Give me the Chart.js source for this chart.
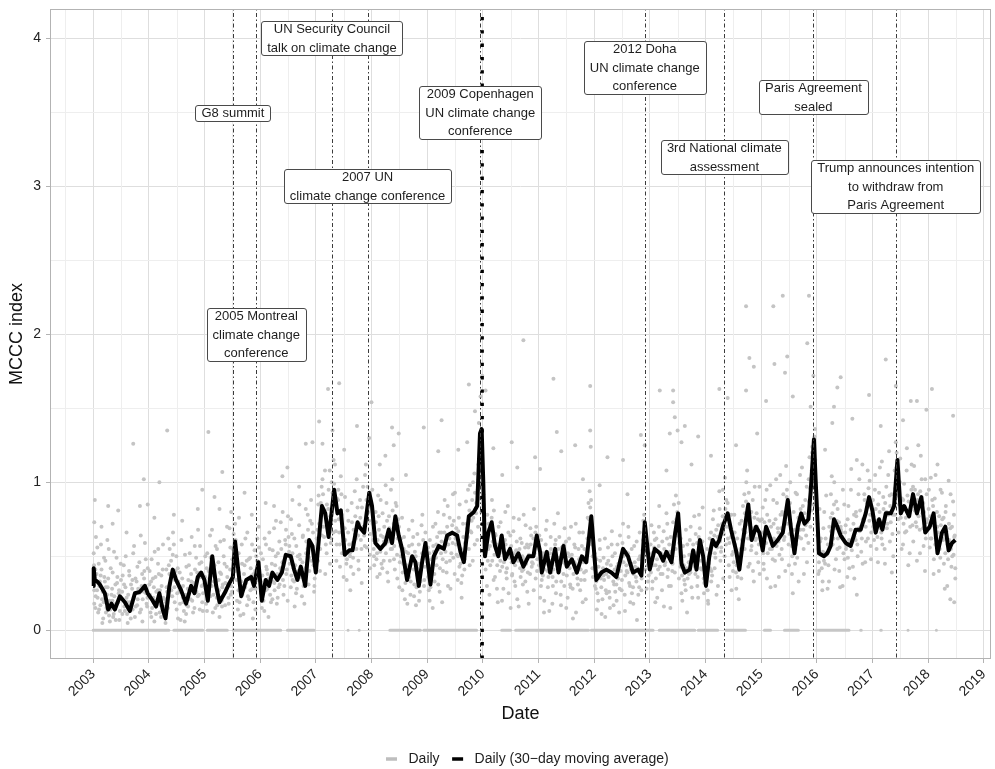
<!DOCTYPE html>
<html><head><meta charset="utf-8">
<script src="https://cdn.jsdelivr.net/npm/chart.js@4.4.1/dist/chart.umd.min.js"></script>
<style>html,body{margin:0;padding:0;background:#fff;}#wrap{width:995px;height:769px;}</style>
</head><body><div id="wrap"><canvas id="c" width="995" height="769"></canvas></div>
<script>
// ---------- DATA ----------
const xTickYears = [2003,2004,2005,2006,2007,2008,2009,2010,2011,2012,2013,2014,2015,2016,2017,2018,2019];
const yTicks = [0,1,2,3,4];

// 30-day moving average [decimal year, MCCC index]
const movingAverage = [
[2003.00,0.30],[2003.01,0.42],[2003.03,0.34],[2003.07,0.33],[2003.12,0.31],[2003.21,0.25],[2003.27,0.14],[2003.33,0.18],[2003.39,0.14],[2003.48,0.23],[2003.57,0.19],[2003.66,0.13],[2003.75,0.25],[2003.84,0.26],[2003.93,0.30],[2003.98,0.25],
[2004.07,0.20],[2004.13,0.16],[2004.19,0.25],[2004.25,0.14],[2004.30,0.08],[2004.37,0.30],[2004.43,0.41],[2004.49,0.34],[2004.58,0.27],[2004.67,0.18],[2004.76,0.30],[2004.82,0.25],[2004.88,0.36],[2004.94,0.39],
[2005.00,0.34],[2005.06,0.20],[2005.14,0.50],[2005.21,0.30],[2005.27,0.19],[2005.36,0.25],[2005.45,0.32],[2005.51,0.36],[2005.55,0.60],[2005.60,0.43],[2005.66,0.23],[2005.75,0.34],[2005.84,0.36],[2005.89,0.30],[2005.97,0.46],
[2006.03,0.20],[2006.10,0.34],[2006.16,0.30],[2006.22,0.39],[2006.31,0.34],[2006.39,0.39],[2006.46,0.51],[2006.55,0.50],[2006.61,0.41],[2006.67,0.34],[2006.73,0.43],[2006.81,0.30],[2006.88,0.61],[2006.94,0.57],
[2007.00,0.39],[2007.11,0.84],[2007.17,0.79],[2007.23,0.63],[2007.27,0.75],[2007.33,0.95],[2007.39,0.79],[2007.45,0.81],[2007.52,0.51],[2007.60,0.54],[2007.66,0.54],[2007.75,0.73],[2007.78,0.70],[2007.87,0.66],[2007.96,0.93],
[2008.01,0.84],[2008.07,0.59],[2008.16,0.55],[2008.25,0.59],[2008.31,0.68],[2008.37,0.59],[2008.43,0.77],[2008.49,0.64],[2008.55,0.55],[2008.64,0.34],[2008.73,0.50],[2008.79,0.46],[2008.85,0.30],[2008.91,0.46],[2008.97,0.59],
[2009.06,0.31],[2009.12,0.50],[2009.21,0.57],[2009.30,0.55],[2009.36,0.64],[2009.45,0.66],[2009.54,0.64],[2009.60,0.53],[2009.66,0.46],[2009.75,0.77],[2009.84,0.80],[2009.90,0.84],[2009.95,1.33],[2009.98,1.36],
[2010.01,0.99],[2010.04,0.50],[2010.10,0.66],[2010.16,0.73],[2010.22,0.57],[2010.28,0.50],[2010.34,0.64],[2010.40,0.48],[2010.49,0.55],[2010.55,0.46],[2010.64,0.52],[2010.73,0.43],[2010.82,0.50],[2010.91,0.50],[2010.97,0.64],
[2011.03,0.53],[2011.06,0.39],[2011.15,0.53],[2011.21,0.39],[2011.30,0.55],[2011.36,0.39],[2011.45,0.57],[2011.51,0.43],[2011.60,0.48],[2011.69,0.39],[2011.78,0.50],[2011.86,0.46],[2011.95,0.77],
[2012.04,0.34],[2012.13,0.39],[2012.22,0.41],[2012.31,0.39],[2012.40,0.36],[2012.52,0.55],[2012.61,0.50],[2012.70,0.39],[2012.79,0.41],[2012.85,0.37],[2012.91,0.73],
[2013.00,0.41],[2013.09,0.55],[2013.18,0.52],[2013.24,0.47],[2013.30,0.53],[2013.39,0.46],[2013.45,0.64],[2013.51,0.79],[2013.57,0.45],[2013.63,0.39],[2013.72,0.41],[2013.78,0.54],[2013.84,0.41],[2013.90,0.61],[2013.96,0.50],
[2014.01,0.30],[2014.07,0.50],[2014.13,0.61],[2014.19,0.57],[2014.25,0.61],[2014.31,0.70],[2014.40,0.79],[2014.46,0.68],[2014.55,0.54],[2014.61,0.41],[2014.67,0.59],[2014.73,0.75],[2014.77,0.85],[2014.83,0.61],[2014.91,0.70],[2014.97,0.66],
[2015.03,0.54],[2015.09,0.70],[2015.15,0.64],[2015.21,0.57],[2015.30,0.61],[2015.39,0.66],[2015.48,0.88],[2015.54,0.68],[2015.60,0.52],[2015.66,0.70],[2015.72,0.79],[2015.78,0.72],[2015.85,0.75],[2015.89,0.93],[2015.92,1.11],[2015.95,1.29],[2015.98,1.02],
[2016.04,0.52],[2016.13,0.50],[2016.19,0.52],[2016.25,0.57],[2016.31,0.75],[2016.37,0.70],[2016.43,0.64],[2016.52,0.59],[2016.61,0.57],[2016.70,0.68],[2016.79,0.68],[2016.88,0.79],[2016.94,0.90],
[2017.00,0.81],[2017.06,0.66],[2017.12,0.75],[2017.18,0.68],[2017.24,0.79],[2017.33,0.79],[2017.39,0.84],[2017.45,1.15],[2017.51,0.79],[2017.57,0.84],[2017.66,0.77],[2017.73,0.92],[2017.80,0.79],[2017.88,0.90],[2017.95,0.66],
[2018.03,0.70],[2018.10,0.79],[2018.17,0.52],[2018.25,0.66],[2018.31,0.70],[2018.37,0.54],[2018.43,0.59],[2018.49,0.61]
];

// daily values, spread and outliers [decimal year, MCCC index]
const dailyPoints = [
[2003.01,0.52],[2003.02,0.18],[2003.04,0.41],[2003.05,0.63],[2003.07,0.27],[2003.09,0.12],[2003.10,0.45],[2003.12,0.33],[2003.14,0.58],[2003.16,0.21],[2003.18,0.08],[2003.20,0.36],[2003.22,0.47],[2003.24,0.15],[2003.26,0.29],[2003.28,0.55],[2003.30,0.06],[2003.33,0.24],[2003.35,0.39],[2003.37,0.11],[2003.40,0.31],[2003.42,0.49],[2003.45,0.19],[2003.47,0.07],[2003.50,0.34],[2003.52,0.26],[2003.55,0.44],[2003.57,0.13],[2003.60,0.22],[2003.62,0.05],[2003.65,0.37],[2003.67,0.17],[2003.70,0.28],[2003.72,0.52],[2003.75,0.09],[2003.78,0.33],[2003.80,0.21],[2003.83,0.46],[2003.86,0.14],[2003.88,0.38],[2003.91,0.26],[2003.93,0.59],[2003.96,0.18],[2003.98,0.42],
[2003.03,0.88],[2003.02,0.73],[2003.27,0.84],[2003.45,0.81],[2003.72,1.26],[2003.84,0.84],[2003.91,1.02],[2003.98,0.85],[2003.15,0.70],[2003.60,0.66],[2003.35,0.72],
[2004.01,0.31],[2004.03,0.12],[2004.05,0.48],[2004.08,0.22],[2004.10,0.06],[2004.12,0.36],[2004.15,0.18],[2004.17,0.55],[2004.20,0.27],[2004.22,0.09],[2004.25,0.41],[2004.27,0.16],[2004.30,0.05],[2004.32,0.29],[2004.35,0.62],[2004.37,0.38],[2004.40,0.47],[2004.42,0.23],[2004.45,0.58],[2004.47,0.34],[2004.50,0.14],[2004.52,0.42],[2004.55,0.26],[2004.57,0.07],[2004.60,0.35],[2004.62,0.19],[2004.65,0.51],[2004.67,0.11],[2004.70,0.28],[2004.72,0.44],[2004.75,0.21],[2004.77,0.63],[2004.80,0.32],[2004.82,0.15],[2004.85,0.49],[2004.87,0.39],[2004.90,0.24],[2004.92,0.57],[2004.95,0.30],[2004.97,0.13],
[2004.19,1.00],[2004.33,1.35],[2004.45,0.78],[2004.60,0.74],[2004.96,0.95],[2004.88,0.82],[2004.10,0.76],
[2005.01,0.36],[2005.03,0.18],[2005.05,0.52],[2005.08,0.27],[2005.10,0.64],[2005.12,0.41],[2005.15,0.12],[2005.17,0.33],[2005.20,0.57],[2005.22,0.22],[2005.25,0.46],[2005.27,0.09],[2005.30,0.38],[2005.32,0.29],[2005.35,0.61],[2005.37,0.17],[2005.40,0.43],[2005.42,0.31],[2005.45,0.69],[2005.47,0.24],[2005.50,0.48],[2005.52,0.35],[2005.55,0.72],[2005.57,0.53],[2005.60,0.14],[2005.62,0.39],[2005.65,0.26],[2005.67,0.58],[2005.70,0.11],[2005.72,0.44],[2005.75,0.32],[2005.77,0.66],[2005.80,0.21],[2005.82,0.49],[2005.85,0.37],[2005.87,0.08],[2005.90,0.54],[2005.92,0.28],[2005.95,0.62],[2005.97,0.41],
[2005.07,1.34],[2005.18,0.90],[2005.32,1.07],[2005.48,0.80],[2005.72,0.93],[2005.62,0.76],[2005.85,0.78],[2005.27,0.82],
[2006.01,0.33],[2006.03,0.15],[2006.05,0.48],[2006.08,0.62],[2006.10,0.27],[2006.12,0.41],[2006.15,0.09],[2006.17,0.55],[2006.20,0.36],[2006.22,0.21],[2006.25,0.69],[2006.27,0.44],[2006.30,0.18],[2006.32,0.52],[2006.35,0.31],[2006.37,0.73],[2006.40,0.46],[2006.42,0.24],[2006.45,0.61],[2006.47,0.38],[2006.50,0.77],[2006.52,0.53],[2006.55,0.29],[2006.57,0.65],[2006.60,0.42],[2006.62,0.16],[2006.65,0.57],[2006.67,0.35],[2006.70,0.71],[2006.72,0.48],[2006.75,0.23],[2006.77,0.64],[2006.80,0.39],[2006.82,0.82],[2006.85,0.55],[2006.87,0.31],[2006.90,0.74],[2006.92,0.47],[2006.95,0.66],[2006.97,0.26],
[2006.10,0.86],[2006.25,0.84],[2006.40,1.04],[2006.49,1.10],[2006.70,0.97],[2006.82,1.26],[2006.94,1.27],[2006.58,0.88],
[2007.01,0.42],[2007.03,0.68],[2007.05,0.91],[2007.08,0.55],[2007.10,0.78],[2007.12,1.02],[2007.15,0.63],[2007.17,0.38],[2007.20,0.85],[2007.22,0.71],[2007.25,1.08],[2007.27,0.59],[2007.30,0.93],[2007.32,1.15],[2007.35,0.74],[2007.37,0.47],[2007.40,0.88],[2007.42,0.66],[2007.45,1.04],[2007.47,0.52],[2007.50,0.36],[2007.52,0.69],[2007.55,0.45],[2007.57,0.81],[2007.60,0.58],[2007.62,0.27],[2007.65,0.73],[2007.67,0.49],[2007.70,0.94],[2007.72,0.62],[2007.75,0.83],[2007.77,0.41],[2007.80,0.76],[2007.82,0.55],[2007.85,0.97],[2007.87,0.64],[2007.90,1.12],[2007.92,0.79],[2007.95,0.86],[2007.97,0.51],
[2007.06,1.41],[2007.12,1.26],[2007.22,1.63],[2007.42,1.67],[2007.74,1.38],[2007.51,1.22],[2007.96,1.30],[2007.30,1.35],
[2008.01,0.82],[2008.03,0.61],[2008.05,0.44],[2008.08,0.73],[2008.10,0.52],[2008.12,0.91],[2008.15,0.38],[2008.17,0.64],[2008.20,0.79],[2008.22,0.47],[2008.25,0.58],[2008.27,0.86],[2008.30,0.33],[2008.32,0.69],[2008.35,0.95],[2008.37,0.55],[2008.40,0.72],[2008.42,0.41],[2008.45,0.84],[2008.47,0.62],[2008.50,0.29],[2008.52,0.57],[2008.55,0.76],[2008.57,0.45],[2008.60,0.21],[2008.62,0.53],[2008.65,0.37],[2008.67,0.68],[2008.70,0.24],[2008.72,0.49],[2008.75,0.63],[2008.77,0.31],[2008.80,0.17],[2008.82,0.42],[2008.85,0.58],[2008.87,0.26],[2008.90,0.71],[2008.92,0.48],[2008.95,0.34],[2008.97,0.66],
[2008.00,1.54],[2008.37,1.37],[2008.40,1.25],[2008.49,1.33],[2008.94,1.37],[2008.15,1.12],[2008.62,1.05],[2008.25,1.18],
[2009.01,0.46],[2009.03,0.27],[2009.05,0.61],[2009.08,0.38],[2009.10,0.15],[2009.12,0.53],[2009.15,0.72],[2009.17,0.44],[2009.20,0.31],[2009.22,0.66],[2009.25,0.52],[2009.27,0.19],[2009.30,0.78],[2009.32,0.57],[2009.35,0.39],[2009.37,0.84],[2009.40,0.62],[2009.42,0.28],[2009.45,0.71],[2009.47,0.49],[2009.50,0.93],[2009.52,0.58],[2009.55,0.34],[2009.57,0.76],[2009.60,0.45],[2009.62,0.22],[2009.65,0.63],[2009.67,0.41],[2009.70,0.87],[2009.72,0.69],[2009.75,0.55],[2009.77,0.98],[2009.80,0.74],[2009.82,0.47],[2009.85,1.06],[2009.87,0.82],[2009.90,0.61],[2009.92,1.12],[2009.95,0.89],[2009.97,1.28],
[2009.20,1.21],[2009.26,1.42],[2009.56,1.22],[2009.72,1.27],[2009.75,1.66],[2009.86,1.48],[2009.93,1.40],[2009.96,1.58],[2009.99,1.72],
[2010.01,0.92],[2010.03,0.63],[2010.05,0.41],[2010.08,0.78],[2010.10,0.55],[2010.12,0.24],[2010.15,0.69],[2010.17,0.47],[2010.20,0.81],[2010.22,0.36],[2010.25,0.58],[2010.27,0.19],[2010.30,0.52],[2010.32,0.73],[2010.35,0.43],[2010.37,0.28],[2010.40,0.61],[2010.42,0.39],[2010.45,0.84],[2010.47,0.51],[2010.50,0.15],[2010.52,0.46],[2010.55,0.67],[2010.57,0.33],[2010.60,0.54],[2010.62,0.21],[2010.65,0.75],[2010.67,0.42],[2010.70,0.59],[2010.72,0.31],[2010.75,0.48],[2010.77,0.71],[2010.80,0.26],[2010.82,0.56],[2010.85,0.38],[2010.87,0.64],[2010.90,0.45],[2010.92,0.82],[2010.95,0.35],[2010.97,0.57],
[2010.05,1.62],[2010.19,1.23],[2010.52,1.27],[2010.73,1.96],[2010.94,1.17],[2010.35,1.05],[2010.62,1.10],
[2011.01,0.44],[2011.03,0.22],[2011.05,0.61],[2011.08,0.37],[2011.10,0.12],[2011.12,0.52],[2011.15,0.74],[2011.17,0.29],[2011.20,0.47],[2011.22,0.63],[2011.25,0.18],[2011.27,0.41],[2011.30,0.58],[2011.32,0.33],[2011.35,0.79],[2011.37,0.49],[2011.40,0.24],[2011.42,0.56],[2011.45,0.38],[2011.47,0.69],[2011.50,0.15],[2011.52,0.43],[2011.55,0.62],[2011.57,0.31],[2011.60,0.51],[2011.62,0.08],[2011.65,0.46],[2011.67,0.72],[2011.70,0.35],[2011.72,0.55],[2011.75,0.27],[2011.77,0.48],[2011.80,0.66],[2011.82,0.39],[2011.85,0.21],[2011.87,0.53],[2011.90,0.86],[2011.92,0.94],[2011.95,0.71],[2011.97,0.42],
[2011.03,1.09],[2011.27,1.70],[2011.33,1.34],[2011.41,1.21],[2011.66,1.25],[2011.93,1.65],[2011.93,1.35],[2011.94,1.24],[2011.80,1.02],
[2012.01,0.52],[2012.03,0.28],[2012.05,0.14],[2012.08,0.43],[2012.10,0.61],[2012.12,0.35],[2012.15,0.21],[2012.17,0.49],[2012.20,0.09],[2012.22,0.38],[2012.25,0.56],[2012.27,0.26],[2012.30,0.44],[2012.32,0.67],[2012.35,0.17],[2012.37,0.41],[2012.40,0.31],[2012.42,0.58],[2012.45,0.12],[2012.47,0.47],[2012.50,0.34],[2012.52,0.72],[2012.55,0.24],[2012.57,0.53],[2012.60,0.39],[2012.62,0.63],[2012.65,0.19],[2012.67,0.45],[2012.70,0.29],[2012.72,0.57],[2012.75,0.36],[2012.77,0.07],[2012.80,0.48],[2012.82,0.66],[2012.85,0.27],[2012.87,0.54],[2012.90,0.78],[2012.92,0.41],[2012.95,0.59],[2012.97,0.33],
[2012.24,1.17],[2012.52,1.15],[2012.84,1.32],[2012.91,1.25],[2012.10,0.98],[2012.60,0.92],
[2013.01,0.48],[2013.03,0.71],[2013.05,0.33],[2013.08,0.56],[2013.10,0.19],[2013.12,0.62],[2013.15,0.41],[2013.17,0.84],[2013.20,0.52],[2013.22,0.27],[2013.25,0.67],[2013.27,0.44],[2013.30,0.79],[2013.32,0.36],[2013.35,0.58],[2013.37,0.15],[2013.40,0.49],[2013.42,0.73],[2013.45,0.39],[2013.47,0.91],[2013.50,0.64],[2013.52,0.86],[2013.55,0.43],[2013.57,0.25],[2013.60,0.57],[2013.62,0.34],[2013.65,0.68],[2013.67,0.12],[2013.70,0.46],[2013.72,0.61],[2013.75,0.29],[2013.77,0.53],[2013.80,0.77],[2013.82,0.38],[2013.85,0.59],[2013.87,0.22],[2013.90,0.69],[2013.92,0.47],[2013.95,0.83],[2013.97,0.35],
[2013.18,1.62],[2013.36,1.33],[2013.42,1.62],[2013.42,1.54],[2013.45,1.44],[2013.50,1.35],[2013.57,1.27],[2013.63,1.38],[2013.87,1.31],[2013.30,1.08],[2013.75,1.12],
[2014.01,0.31],[2014.03,0.55],[2014.05,0.18],[2014.08,0.42],[2014.10,0.66],[2014.12,0.37],[2014.15,0.81],[2014.17,0.52],[2014.20,0.24],[2014.22,0.63],[2014.25,0.94],[2014.27,0.47],[2014.30,0.72],[2014.32,0.35],[2014.35,1.03],[2014.37,0.58],[2014.40,0.86],[2014.42,0.44],[2014.45,0.69],[2014.47,0.27],[2014.50,0.53],[2014.52,0.78],[2014.55,0.39],[2014.57,0.62],[2014.60,0.21],[2014.62,0.48],[2014.65,0.74],[2014.67,0.57],[2014.70,0.92],[2014.72,0.66],[2014.75,1.08],[2014.77,0.43],[2014.80,0.71],[2014.82,0.54],[2014.85,0.88],[2014.87,0.33],[2014.90,0.61],[2014.92,0.79],[2014.95,0.46],[2014.97,0.97],
[2014.25,1.63],[2014.40,1.57],[2014.73,2.19],[2014.73,1.62],[2014.79,1.84],[2014.87,1.78],[2014.93,1.33],[2014.10,1.18],[2014.55,1.25],
[2015.01,0.58],[2015.03,0.83],[2015.05,0.41],[2015.08,0.67],[2015.10,0.95],[2015.12,0.52],[2015.15,0.74],[2015.17,0.29],[2015.20,0.61],[2015.22,0.88],[2015.25,0.47],[2015.27,1.02],[2015.30,0.69],[2015.32,0.36],[2015.35,0.78],[2015.37,0.55],[2015.40,0.92],[2015.42,0.63],[2015.45,1.11],[2015.47,0.72],[2015.50,0.44],[2015.52,0.86],[2015.55,0.57],[2015.57,0.25],[2015.60,0.68],[2015.62,0.93],[2015.65,0.49],[2015.67,0.76],[2015.70,1.05],[2015.72,0.62],[2015.75,0.84],[2015.77,0.38],[2015.80,0.71],[2015.82,0.97],[2015.85,0.59],[2015.87,1.17],[2015.90,0.81],[2015.92,1.24],[2015.95,0.99],[2015.97,1.36],
[2015.09,1.55],[2015.24,1.80],[2015.22,2.19],[2015.39,2.26],[2015.43,1.74],[2015.47,1.85],[2015.57,1.58],[2015.83,1.94],[2015.86,2.26],[2015.89,1.51],[2015.94,1.72],
[2016.01,0.64],[2016.03,0.38],[2016.05,0.82],[2016.08,0.51],[2016.10,0.27],[2016.12,0.69],[2016.15,0.45],[2016.17,0.91],[2016.20,0.58],[2016.22,0.33],[2016.25,0.76],[2016.27,1.04],[2016.30,0.62],[2016.32,0.41],[2016.35,0.87],[2016.37,0.55],[2016.40,0.73],[2016.42,0.29],[2016.45,0.66],[2016.47,0.95],[2016.50,0.48],[2016.52,0.71],[2016.55,0.36],[2016.57,0.84],[2016.60,0.59],[2016.62,1.09],[2016.65,0.43],[2016.67,0.78],[2016.70,0.61],[2016.72,0.24],[2016.75,0.92],[2016.77,0.67],[2016.80,0.53],[2016.82,1.12],[2016.85,0.74],[2016.87,0.46],[2016.90,0.86],[2016.92,0.62],[2016.95,1.01],[2016.97,0.57],
[2016.28,1.40],[2016.31,1.51],[2016.37,1.64],[2016.43,1.71],[2016.64,1.43],[2016.94,1.59],[2016.15,1.22],[2016.72,1.15],
[2017.01,0.88],[2017.03,0.61],[2017.05,1.05],[2017.08,0.74],[2017.10,0.46],[2017.12,0.93],[2017.15,0.69],[2017.17,1.14],[2017.20,0.82],[2017.22,0.55],[2017.25,0.97],[2017.27,0.72],[2017.30,1.21],[2017.32,0.84],[2017.35,0.39],[2017.37,0.78],[2017.40,1.08],[2017.42,1.27],[2017.45,0.91],[2017.47,0.66],[2017.50,1.16],[2017.52,0.81],[2017.55,0.58],[2017.57,0.99],[2017.60,0.76],[2017.62,1.23],[2017.65,0.87],[2017.67,0.52],[2017.70,0.95],[2017.72,0.71],[2017.75,1.11],[2017.77,0.83],[2017.80,0.47],[2017.82,0.92],[2017.85,0.68],[2017.87,1.18],[2017.90,0.79],[2017.92,0.57],[2017.95,1.02],[2017.97,0.73],
[2017.24,1.83],[2017.42,1.65],[2017.69,1.55],[2017.80,1.55],[2017.97,1.49],[2017.15,1.38],[2017.55,1.42],
[2018.01,0.82],[2018.03,0.56],[2018.05,1.03],[2018.08,0.71],[2018.10,0.38],[2018.12,0.89],[2018.15,0.64],[2018.17,1.12],[2018.20,0.77],[2018.22,0.49],[2018.25,0.93],[2018.27,0.61],[2018.30,0.28],[2018.32,0.84],[2018.35,0.58],[2018.37,1.01],[2018.40,0.69],[2018.42,0.43],[2018.45,0.87],[2018.47,0.63],[2018.49,0.35],
[2018.07,1.63],[2018.45,1.45],[2018.40,0.21],[2018.47,0.19]
];

// daily values, dense core of the cloud
const dailyPointsCore = [
[2003.02,0.27],[2003.04,0.15],[2003.06,0.38],[2003.08,0.22],[2003.11,0.30],[2003.13,0.17],[2003.15,0.41],[2003.17,0.26],[2003.19,0.19],[2003.21,0.33],[2003.23,0.12],[2003.25,0.24],[2003.27,0.35],[2003.29,0.20],[2003.31,0.14],[2003.34,0.28],[2003.36,0.09],[2003.38,0.23],[2003.41,0.18],[2003.43,0.32],[2003.46,0.25],[2003.48,0.13],[2003.51,0.21],[2003.53,0.37],[2003.56,0.16],[2003.58,0.29],[2003.61,0.11],[2003.63,0.24],[2003.66,0.19],[2003.68,0.31],[2003.71,0.14],[2003.73,0.22],[2003.76,0.35],[2003.79,0.17],[2003.81,0.28],[2003.84,0.12],[2003.87,0.30],[2003.89,0.21],[2003.92,0.40],[2003.95,0.25],[2003.97,0.16],
[2004.02,0.24],[2004.04,0.33],[2004.06,0.15],[2004.09,0.29],[2004.11,0.20],[2004.13,0.11],[2004.16,0.27],[2004.18,0.38],[2004.21,0.17],[2004.23,0.30],[2004.26,0.22],[2004.28,0.10],[2004.31,0.19],[2004.33,0.26],[2004.36,0.44],[2004.38,0.31],[2004.41,0.36],[2004.43,0.51],[2004.46,0.29],[2004.48,0.40],[2004.51,0.25],[2004.53,0.33],[2004.56,0.18],[2004.58,0.28],[2004.61,0.22],[2004.63,0.13],[2004.66,0.24],[2004.68,0.17],[2004.71,0.34],[2004.73,0.27],[2004.76,0.38],[2004.78,0.20],[2004.81,0.29],[2004.83,0.41],[2004.86,0.33],[2004.88,0.23],[2004.91,0.45],[2004.93,0.36],[2004.96,0.19],[2004.98,0.31],
[2005.02,0.28],[2005.04,0.42],[2005.06,0.21],[2005.09,0.35],[2005.11,0.49],[2005.13,0.30],[2005.16,0.24],[2005.18,0.44],[2005.21,0.33],[2005.23,0.17],[2005.26,0.27],[2005.28,0.39],[2005.31,0.20],[2005.33,0.31],[2005.36,0.45],[2005.38,0.26],[2005.41,0.36],[2005.43,0.22],[2005.46,0.41],[2005.48,0.30],[2005.51,0.55],[2005.53,0.43],[2005.56,0.61],[2005.58,0.34],[2005.61,0.27],[2005.63,0.19],[2005.66,0.33],[2005.68,0.24],[2005.71,0.38],[2005.73,0.29],[2005.76,0.47],[2005.78,0.23],[2005.81,0.35],[2005.83,0.42],[2005.86,0.28],[2005.88,0.19],[2005.91,0.40],[2005.93,0.50],[2005.96,0.34],[2005.98,0.56],
[2006.02,0.25],[2006.04,0.37],[2006.06,0.20],[2006.09,0.31],[2006.11,0.43],[2006.13,0.28],[2006.16,0.35],[2006.18,0.24],[2006.21,0.45],[2006.23,0.33],[2006.26,0.27],[2006.28,0.50],[2006.31,0.38],[2006.33,0.29],[2006.36,0.42],[2006.38,0.55],[2006.41,0.34],[2006.43,0.47],[2006.46,0.58],[2006.48,0.41],[2006.51,0.63],[2006.53,0.45],[2006.56,0.37],[2006.58,0.52],[2006.61,0.33],[2006.63,0.44],[2006.66,0.28],[2006.68,0.40],[2006.71,0.51],[2006.73,0.36],[2006.76,0.46],[2006.78,0.30],[2006.81,0.42],[2006.83,0.60],[2006.86,0.68],[2006.88,0.49],[2006.91,0.58],[2006.93,0.72],[2006.96,0.44],[2006.98,0.35],
[2007.02,0.53],[2007.04,0.47],[2007.06,0.72],[2007.09,0.86],[2007.11,0.64],[2007.13,0.92],[2007.16,0.81],[2007.18,0.58],[2007.21,0.69],[2007.23,0.95],[2007.26,0.77],[2007.28,0.62],[2007.31,0.84],[2007.33,0.99],[2007.36,0.67],[2007.38,0.89],[2007.41,0.75],[2007.43,0.58],[2007.46,0.92],[2007.48,0.70],[2007.51,0.55],[2007.53,0.61],[2007.56,0.48],[2007.58,0.66],[2007.61,0.52],[2007.63,0.43],[2007.66,0.59],[2007.68,0.68],[2007.71,0.77],[2007.73,0.55],[2007.76,0.64],[2007.78,0.72],[2007.81,0.61],[2007.83,0.83],[2007.86,0.70],[2007.88,0.57],[2007.91,0.88],[2007.93,0.97],[2007.96,0.74],[2007.98,0.65],
[2008.02,0.72],[2008.04,0.55],[2008.06,0.66],[2008.09,0.48],[2008.11,0.61],[2008.13,0.77],[2008.16,0.53],[2008.18,0.45],[2008.21,0.63],[2008.23,0.70],[2008.26,0.52],[2008.28,0.74],[2008.31,0.60],[2008.33,0.47],[2008.36,0.66],[2008.38,0.81],[2008.41,0.57],[2008.43,0.68],[2008.46,0.51],[2008.48,0.75],[2008.51,0.46],[2008.53,0.62],[2008.56,0.39],[2008.58,0.55],[2008.61,0.32],[2008.63,0.44],[2008.66,0.52],[2008.68,0.36],[2008.71,0.47],[2008.73,0.58],[2008.76,0.41],[2008.78,0.53],[2008.81,0.29],[2008.83,0.37],[2008.86,0.45],[2008.88,0.33],[2008.91,0.52],[2008.93,0.61],[2008.96,0.43],[2008.98,0.55],
[2009.02,0.36],[2009.04,0.52],[2009.06,0.29],[2009.09,0.44],[2009.11,0.57],[2009.13,0.38],[2009.16,0.49],[2009.18,0.63],[2009.21,0.55],[2009.23,0.42],[2009.26,0.60],[2009.28,0.48],[2009.31,0.66],[2009.33,0.53],[2009.36,0.70],[2009.38,0.58],[2009.41,0.47],[2009.43,0.65],[2009.46,0.59],[2009.48,0.74],[2009.51,0.62],[2009.53,0.51],[2009.56,0.67],[2009.58,0.43],[2009.61,0.55],[2009.63,0.37],[2009.66,0.50],[2009.68,0.59],[2009.71,0.72],[2009.73,0.63],[2009.76,0.81],[2009.78,0.67],[2009.81,0.88],[2009.83,0.76],[2009.86,0.93],[2009.88,0.79],[2009.91,0.95],[2009.93,1.02],[2009.96,1.18],[2009.98,1.09],
[2010.02,0.74],[2010.04,0.55],[2010.06,0.62],[2010.09,0.47],[2010.11,0.68],[2010.13,0.57],[2010.16,0.76],[2010.18,0.60],[2010.21,0.51],[2010.23,0.64],[2010.26,0.44],[2010.28,0.56],[2010.31,0.40],[2010.33,0.62],[2010.36,0.53],[2010.38,0.46],[2010.41,0.58],[2010.43,0.35],[2010.46,0.66],[2010.48,0.49],[2010.51,0.57],[2010.53,0.38],[2010.56,0.52],[2010.58,0.44],[2010.61,0.60],[2010.63,0.47],[2010.66,0.55],[2010.68,0.36],[2010.71,0.50],[2010.73,0.41],[2010.76,0.56],[2010.78,0.45],[2010.81,0.39],[2010.83,0.51],[2010.86,0.58],[2010.88,0.43],[2010.91,0.62],[2010.93,0.52],[2010.96,0.70],[2010.98,0.48],
[2011.02,0.55],[2011.04,0.46],[2011.06,0.34],[2011.09,0.50],[2011.11,0.41],[2011.13,0.58],[2011.16,0.45],[2011.18,0.36],[2011.21,0.52],[2011.23,0.39],[2011.26,0.30],[2011.28,0.48],[2011.31,0.61],[2011.33,0.44],[2011.36,0.55],[2011.38,0.40],[2011.41,0.33],[2011.43,0.49],[2011.46,0.58],[2011.48,0.45],[2011.51,0.37],[2011.53,0.52],[2011.56,0.42],[2011.58,0.29],[2011.61,0.47],[2011.63,0.38],[2011.66,0.56],[2011.68,0.44],[2011.71,0.31],[2011.73,0.48],[2011.76,0.41],[2011.78,0.57],[2011.81,0.46],[2011.83,0.34],[2011.86,0.50],[2011.88,0.62],[2011.91,0.75],[2011.93,0.83],[2011.96,0.58],[2011.98,0.36],
[2012.02,0.41],[2012.04,0.33],[2012.06,0.25],[2012.09,0.38],[2012.11,0.47],[2012.13,0.29],[2012.16,0.42],[2012.18,0.34],[2012.21,0.27],[2012.23,0.45],[2012.26,0.36],[2012.28,0.22],[2012.31,0.39],[2012.33,0.50],[2012.36,0.31],[2012.38,0.26],[2012.41,0.43],[2012.43,0.35],[2012.46,0.28],[2012.48,0.40],[2012.51,0.59],[2012.53,0.46],[2012.56,0.37],[2012.58,0.44],[2012.61,0.52],[2012.63,0.32],[2012.66,0.41],[2012.68,0.25],[2012.71,0.38],[2012.73,0.46],[2012.76,0.33],[2012.78,0.42],[2012.81,0.29],[2012.83,0.39],[2012.86,0.48],[2012.88,0.61],[2012.91,0.69],[2012.93,0.52],[2012.96,0.44],[2012.98,0.37],
[2013.02,0.39],[2013.04,0.52],[2013.06,0.44],[2013.09,0.61],[2013.11,0.35],[2013.13,0.48],[2013.16,0.57],[2013.18,0.43],[2013.21,0.50],[2013.23,0.38],[2013.26,0.55],[2013.28,0.46],[2013.31,0.62],[2013.33,0.41],[2013.36,0.53],[2013.38,0.30],[2013.41,0.45],[2013.43,0.58],[2013.46,0.66],[2013.48,0.75],[2013.51,0.70],[2013.53,0.59],[2013.56,0.48],[2013.58,0.37],[2013.61,0.44],[2013.63,0.31],[2013.66,0.42],[2013.68,0.35],[2013.71,0.51],[2013.73,0.39],[2013.76,0.47],[2013.78,0.58],[2013.81,0.43],[2013.83,0.52],[2013.86,0.36],[2013.88,0.63],[2013.91,0.55],[2013.93,0.41],[2013.96,0.49],[2013.98,0.32],
[2014.02,0.38],[2014.04,0.27],[2014.06,0.45],[2014.09,0.52],[2014.11,0.40],[2014.13,0.58],[2014.16,0.64],[2014.18,0.49],[2014.21,0.56],[2014.23,0.71],[2014.26,0.60],[2014.28,0.53],[2014.31,0.77],[2014.33,0.65],[2014.36,0.82],[2014.38,0.70],[2014.41,0.75],[2014.43,0.59],[2014.46,0.63],[2014.48,0.51],[2014.51,0.46],[2014.53,0.58],[2014.56,0.44],[2014.58,0.36],[2014.61,0.49],[2014.63,0.55],[2014.66,0.61],[2014.68,0.68],[2014.71,0.79],[2014.73,0.87],[2014.76,0.72],[2014.78,0.93],[2014.81,0.64],[2014.83,0.57],[2014.86,0.69],[2014.88,0.76],[2014.91,0.62],[2014.93,0.70],[2014.96,0.58],[2014.98,0.74],
[2015.02,0.66],[2015.04,0.52],[2015.06,0.73],[2015.09,0.59],[2015.11,0.78],[2015.13,0.64],[2015.16,0.55],[2015.18,0.70],[2015.21,0.48],[2015.23,0.62],[2015.26,0.75],[2015.28,0.57],[2015.31,0.66],[2015.33,0.51],[2015.36,0.69],[2015.38,0.80],[2015.41,0.61],[2015.43,0.74],[2015.46,0.90],[2015.48,0.83],[2015.51,0.65],[2015.53,0.72],[2015.56,0.50],[2015.58,0.61],[2015.61,0.45],[2015.63,0.58],[2015.66,0.71],[2015.68,0.63],[2015.71,0.82],[2015.73,0.75],[2015.76,0.68],[2015.78,0.79],[2015.81,0.64],[2015.83,0.73],[2015.86,0.87],[2015.88,0.96],[2015.91,1.08],[2015.93,1.15],[2015.96,1.31],[2015.98,0.94],
[2016.02,0.55],[2016.04,0.46],[2016.06,0.60],[2016.09,0.42],[2016.11,0.53],[2016.13,0.47],[2016.16,0.62],[2016.18,0.51],[2016.21,0.44],[2016.23,0.58],[2016.26,0.67],[2016.28,0.79],[2016.31,0.85],[2016.33,0.69],[2016.36,0.74],[2016.38,0.62],[2016.41,0.56],[2016.43,0.70],[2016.46,0.63],[2016.48,0.52],[2016.51,0.66],[2016.53,0.57],[2016.56,0.49],[2016.58,0.61],[2016.61,0.68],[2016.63,0.54],[2016.66,0.72],[2016.68,0.63],[2016.71,0.77],[2016.73,0.58],[2016.76,0.69],[2016.78,0.81],[2016.81,0.62],[2016.83,0.75],[2016.86,0.88],[2016.88,0.70],[2016.91,0.83],[2016.93,0.96],[2016.96,0.78],[2016.98,0.66],
[2017.02,0.77],[2017.04,0.68],[2017.06,0.82],[2017.09,0.63],[2017.11,0.72],[2017.13,0.80],[2017.16,0.66],[2017.18,0.58],[2017.21,0.74],[2017.23,0.86],[2017.26,0.69],[2017.28,0.78],[2017.31,0.91],[2017.33,0.73],[2017.36,0.65],[2017.38,0.84],[2017.41,0.96],[2017.43,1.10],[2017.46,1.02],[2017.48,0.85],[2017.51,0.76],[2017.53,0.89],[2017.56,0.72],[2017.58,0.83],[2017.61,0.67],[2017.63,0.91],[2017.66,0.79],[2017.68,0.70],[2017.71,0.86],[2017.73,0.97],[2017.76,0.81],[2017.78,0.73],[2017.81,0.88],[2017.83,0.77],[2017.86,0.94],[2017.88,0.84],[2017.91,0.69],[2017.93,0.80],[2017.96,0.62],[2017.98,0.75],
[2018.02,0.69],[2018.04,0.77],[2018.06,0.62],[2018.09,0.84],[2018.11,0.73],[2018.13,0.58],[2018.16,0.80],[2018.18,0.66],[2018.21,0.55],[2018.23,0.71],[2018.26,0.62],[2018.28,0.76],[2018.31,0.52],[2018.33,0.67],[2018.36,0.48],[2018.38,0.61],[2018.41,0.55],[2018.43,0.70],[2018.46,0.51],[2018.48,0.64]
];

// daily values, full width of the cloud
const dailyPointsWide = [
[2003.015,0.44],[2003.045,0.23],[2003.075,0.56],[2003.105,0.14],[2003.135,0.37],[2003.165,0.05],[2003.195,0.49],[2003.225,0.29],[2003.255,0.61],[2003.285,0.10],[2003.315,0.42],[2003.345,0.20],[2003.375,0.53],[2003.405,0.07],[2003.435,0.36],[2003.465,0.27],[2003.495,0.45],[2003.525,0.11],[2003.555,0.31],[2003.585,0.50],[2003.615,0.19],[2003.645,0.40],[2003.675,0.08],[2003.705,0.34],[2003.735,0.57],[2003.765,0.16],[2003.795,0.43],[2003.825,0.25],[2003.855,0.64],[2003.885,0.06],[2003.915,0.35],[2003.945,0.48],[2003.975,0.22],
[2004.015,0.40],[2004.045,0.09],[2004.075,0.35],[2004.105,0.53],[2004.135,0.26],[2004.165,0.45],[2004.195,0.12],[2004.225,0.37],[2004.255,0.58],[2004.285,0.21],[2004.315,0.41],[2004.345,0.15],[2004.375,0.55],[2004.405,0.27],[2004.435,0.66],[2004.465,0.19],[2004.495,0.50],[2004.525,0.08],[2004.555,0.39],[2004.585,0.61],[2004.615,0.30],[2004.645,0.06],[2004.675,0.43],[2004.705,0.16],[2004.735,0.52],[2004.765,0.33],[2004.795,0.12],[2004.825,0.57],[2004.855,0.26],[2004.885,0.68],[2004.915,0.14],[2004.945,0.46],[2004.975,0.25],
[2005.015,0.50],[2005.045,0.13],[2005.075,0.40],[2005.105,0.23],[2005.135,0.68],[2005.165,0.37],[2005.195,0.15],[2005.225,0.55],[2005.255,0.34],[2005.285,0.60],[2005.315,0.16],[2005.345,0.50],[2005.375,0.32],[2005.405,0.70],[2005.435,0.18],[2005.465,0.56],[2005.495,0.26],[2005.525,0.65],[2005.555,0.40],[2005.585,0.20],[2005.615,0.52],[2005.645,0.10],[2005.675,0.45],[2005.705,0.30],[2005.735,0.62],[2005.765,0.17],[2005.795,0.48],[2005.825,0.27],[2005.855,0.58],[2005.885,0.38],[2005.915,0.14],[2005.945,0.47],[2005.975,0.70],
[2006.015,0.52],[2006.045,0.28],[2006.075,0.13],[2006.105,0.58],[2006.135,0.38],[2006.165,0.66],[2006.195,0.19],[2006.225,0.54],[2006.255,0.32],[2006.285,0.74],[2006.315,0.22],[2006.345,0.60],[2006.375,0.40],[2006.405,0.80],[2006.435,0.30],[2006.465,0.68],[2006.495,0.20],[2006.525,0.57],[2006.555,0.75],[2006.585,0.34],[2006.615,0.62],[2006.645,0.25],[2006.675,0.50],[2006.705,0.85],[2006.735,0.39],[2006.765,0.63],[2006.795,0.18],[2006.825,0.52],[2006.855,0.78],[2006.885,0.40],[2006.915,0.88],[2006.945,0.56],[2006.975,0.30],
[2007.015,0.62],[2007.045,0.85],[2007.075,0.40],[2007.105,0.97],[2007.135,0.70],[2007.165,1.08],[2007.195,0.52],[2007.225,0.82],[2007.255,0.45],[2007.285,1.00],[2007.315,0.66],[2007.345,1.12],[2007.375,0.58],[2007.405,0.95],[2007.435,0.43],[2007.465,0.78],[2007.495,0.60],[2007.525,0.90],[2007.555,0.34],[2007.585,0.74],[2007.615,0.50],[2007.645,0.86],[2007.675,0.38],[2007.705,0.65],[2007.735,1.02],[2007.765,0.47],[2007.795,0.88],[2007.825,0.32],[2007.855,0.70],[2007.885,1.05],[2007.915,0.56],[2007.945,0.80],[2007.975,0.42],
[2008.015,0.95],[2008.045,0.50],[2008.075,0.80],[2008.105,0.36],[2008.135,0.68],[2008.165,0.88],[2008.195,0.42],[2008.225,0.60],[2008.255,0.98],[2008.285,0.39],[2008.315,0.77],[2008.345,0.55],[2008.375,1.02],[2008.405,0.48],[2008.435,0.86],[2008.465,0.35],[2008.495,0.70],[2008.525,0.50],[2008.555,0.27],[2008.585,0.63],[2008.615,0.42],[2008.645,0.18],[2008.675,0.57],[2008.705,0.33],[2008.735,0.74],[2008.765,0.23],[2008.795,0.50],[2008.825,0.65],[2008.855,0.20],[2008.885,0.44],[2008.915,0.78],[2008.945,0.30],[2008.975,0.59],
[2009.015,0.56],[2009.045,0.20],[2009.075,0.48],[2009.105,0.70],[2009.135,0.33],[2009.165,0.58],[2009.195,0.80],[2009.225,0.26],[2009.255,0.66],[2009.285,0.40],[2009.315,0.88],[2009.345,0.46],[2009.375,0.30],[2009.405,0.76],[2009.435,0.52],[2009.465,0.92],[2009.495,0.38],[2009.525,0.69],[2009.555,0.50],[2009.585,0.85],[2009.615,0.32],[2009.645,0.72],[2009.675,0.48],[2009.705,0.62],[2009.735,0.95],[2009.765,0.44],[2009.795,0.66],[2009.825,1.00],[2009.855,0.58],[2009.885,0.86],[2009.915,0.70],[2009.945,1.08],[2009.975,0.80],
[2010.015,0.85],[2010.045,0.50],[2010.075,0.30],[2010.105,0.72],[2010.135,0.44],[2010.165,0.88],[2010.195,0.34],[2010.225,0.65],[2010.255,0.28],[2010.285,0.70],[2010.315,0.47],[2010.345,0.20],[2010.375,0.60],[2010.405,0.80],[2010.435,0.42],[2010.465,0.25],[2010.495,0.64],[2010.525,0.37],[2010.555,0.76],[2010.585,0.30],[2010.615,0.50],[2010.645,0.16],[2010.675,0.62],[2010.705,0.40],[2010.735,0.78],[2010.765,0.33],[2010.795,0.58],[2010.825,0.18],[2010.855,0.69],[2010.885,0.46],[2010.915,0.27],[2010.945,0.66],[2010.975,0.40],
[2011.015,0.64],[2011.045,0.30],[2011.075,0.52],[2011.105,0.20],[2011.135,0.68],[2011.165,0.40],[2011.195,0.13],[2011.225,0.55],[2011.255,0.36],[2011.285,0.72],[2011.315,0.25],[2011.345,0.48],[2011.375,0.63],[2011.405,0.17],[2011.435,0.46],[2011.465,0.30],[2011.495,0.60],[2011.525,0.22],[2011.555,0.50],[2011.585,0.70],[2011.615,0.28],[2011.645,0.58],[2011.675,0.12],[2011.705,0.43],[2011.735,0.66],[2011.765,0.34],[2011.795,0.19],[2011.825,0.55],[2011.855,0.40],[2011.885,0.76],[2011.915,0.60],[2011.945,0.88],[2011.975,0.50],
[2012.015,0.30],[2012.045,0.48],[2012.075,0.20],[2012.105,0.55],[2012.135,0.11],[2012.165,0.37],[2012.195,0.62],[2012.225,0.25],[2012.255,0.47],[2012.285,0.15],[2012.315,0.58],[2012.345,0.33],[2012.375,0.52],[2012.405,0.20],[2012.435,0.45],[2012.465,0.64],[2012.495,0.27],[2012.525,0.50],[2012.555,0.13],[2012.585,0.40],[2012.615,0.70],[2012.645,0.30],[2012.675,0.55],[2012.705,0.18],[2012.735,0.43],[2012.765,0.60],[2012.795,0.24],[2012.825,0.50],[2012.855,0.35],[2012.885,0.74],[2012.915,0.58],[2012.945,0.28],[2012.975,0.50],
[2013.015,0.58],[2013.045,0.28],[2013.075,0.66],[2013.105,0.44],[2013.135,0.22],[2013.165,0.70],[2013.195,0.38],[2013.225,0.60],[2013.255,0.16],[2013.285,0.52],[2013.315,0.72],[2013.345,0.30],[2013.375,0.63],[2013.405,0.40],[2013.435,0.85],[2013.465,0.55],[2013.495,0.80],[2013.525,0.35],[2013.555,0.62],[2013.585,0.20],[2013.615,0.50],[2013.645,0.27],[2013.675,0.58],[2013.705,0.38],[2013.735,0.70],[2013.765,0.22],[2013.795,0.48],[2013.825,0.65],[2013.855,0.30],[2013.885,0.78],[2013.915,0.42],[2013.945,0.60],[2013.975,0.25],
[2014.015,0.45],[2014.045,0.20],[2014.075,0.62],[2014.105,0.33],[2014.135,0.75],[2014.165,0.42],[2014.195,0.68],[2014.225,0.30],[2014.255,0.82],[2014.285,0.56],[2014.315,0.95],[2014.345,0.50],[2014.375,0.88],[2014.405,0.62],[2014.435,0.36],[2014.465,0.78],[2014.495,0.40],[2014.525,0.66],[2014.555,0.28],[2014.585,0.52],[2014.615,0.72],[2014.645,0.35],[2014.675,0.84],[2014.705,0.55],[2014.735,1.00],[2014.765,0.62],[2014.795,0.45],[2014.825,0.80],[2014.855,0.40],[2014.885,0.97],[2014.915,0.52],[2014.945,0.75],[2014.975,0.38],
[2015.015,0.75],[2015.045,0.45],[2015.075,0.88],[2015.105,0.35],[2015.135,0.65],[2015.165,0.98],[2015.195,0.55],[2015.225,0.72],[2015.255,0.30],[2015.285,0.86],[2015.315,0.60],[2015.345,1.05],[2015.375,0.48],[2015.405,0.78],[2015.435,0.40],[2015.465,0.95],[2015.495,0.58],[2015.525,1.00],[2015.555,0.38],[2015.585,0.80],[2015.615,0.55],[2015.645,0.92],[2015.675,0.33],[2015.705,0.68],[2015.735,1.10],[2015.765,0.55],[2015.795,0.88],[2015.825,0.46],[2015.855,1.02],[2015.885,0.70],[2015.915,1.20],[2015.945,0.85],[2015.975,1.15],
[2016.015,0.72],[2016.045,0.40],[2016.075,0.62],[2016.105,0.33],[2016.135,0.80],[2016.165,0.52],[2016.195,0.28],[2016.225,0.70],[2016.255,0.92],[2016.285,0.58],[2016.315,1.00],[2016.345,0.48],[2016.375,0.82],[2016.405,0.40],[2016.435,0.68],[2016.465,0.30],[2016.495,0.85],[2016.525,0.55],[2016.555,0.75],[2016.585,0.42],[2016.615,0.95],[2016.645,0.60],[2016.675,0.35],[2016.705,0.80],[2016.735,0.50],[2016.765,1.02],[2016.795,0.70],[2016.825,0.45],[2016.855,0.92],[2016.885,0.60],[2016.915,1.08],[2016.945,0.74],[2016.975,0.48],
[2017.015,0.70],[2017.045,0.95],[2017.075,0.55],[2017.105,0.85],[2017.135,1.10],[2017.165,0.62],[2017.195,0.90],[2017.225,0.45],[2017.255,0.80],[2017.285,1.05],[2017.315,0.60],[2017.345,0.92],[2017.375,0.50],[2017.405,0.78],[2017.435,1.20],[2017.465,0.75],[2017.495,1.00],[2017.525,0.55],[2017.555,0.88],[2017.585,0.66],[2017.615,1.08],[2017.645,0.44],[2017.675,0.82],[2017.705,1.12],[2017.735,0.60],[2017.765,0.95],[2017.795,0.70],[2017.825,1.25],[2017.855,0.52],[2017.885,1.02],[2017.915,0.86],[2017.945,0.40],[2017.975,0.92],
[2018.015,0.95],[2018.045,0.62],[2018.075,0.88],[2018.105,0.48],[2018.135,1.05],[2018.165,0.70],[2018.195,0.40],[2018.225,0.95],[2018.255,0.75],[2018.285,0.45],[2018.315,0.80],[2018.345,0.30],[2018.375,0.72],[2018.405,0.92],[2018.435,0.50],[2018.465,0.78],[2018.490,0.42]
];

// runs of days where the daily index is 0 [from, to]
const zeroRuns = [[2003.00,2004.36],[2004.45,2004.97],[2005.05,2005.41],[2005.52,2006.37],[2006.49,2006.97],[2007.58,2007.59],[2007.78,2007.79],[2008.33,2008.88],[2008.94,2009.89],[2010.34,2010.50],[2010.59,2011.90],[2011.95,2013.06],[2013.17,2013.81],[2013.87,2014.22],[2014.37,2014.72],[2015.06,2015.17],[2015.42,2015.67],[2015.98,2016.58],[2016.79,2016.80],[2017.15,2017.16],[2017.64,2017.65],[2018.15,2018.16]];

// events
const eventDates  = [2005.51, 2005.93, 2007.29, 2007.93, 2009.955, 2012.91, 2014.34, 2015.94, 2017.42];
const eventLabels = ["G8 summit", "2005 Montreal\nclimate change\nconference", "UN Security Council\ntalk on climate change", "2007 UN\nclimate change conference", "2009 Copenhagen\nUN climate change\nconference", "2012 Doha\nUN climate change\nconference", "3rd National climate\nassessment", "Paris Agreement\nsealed", "Trump announces intention\nto withdraw from\nParis Agreement"];
const eventLabelY = [3.5, 2.0, 4.0, 3.0, 3.5, 3.8, 3.2, 3.6, 3.0];
const copenhagenEnd = 2009.99;
const legendLabels = ["Daily", "Daily (30\u2212day moving average)"];

// ---------- CHART ----------
const FONT = '"Liberation Sans", Arial, Helvetica, sans-serif';
Chart.defaults.font.family = FONT;

const zeroData = [];
zeroRuns.forEach(r => { zeroData.push({x:r[0],y:0},{x:r[1],y:0},{x:r[1],y:null}); });
const allDaily = dailyPoints.concat(dailyPointsCore, dailyPointsWide);

function vlinePix(chart, v){ return Math.round(chart.scales.x.getPixelForValue(v)) + 0.5; }

const decor = {
  id: 'decor',
  beforeDatasetsDraw(chart) {
    const {ctx, chartArea: a, scales: {x, y}} = chart;
    ctx.save();
    ctx.strokeStyle = '#eeeeee'; ctx.lineWidth = 1;
    const xMinor = [xTickYears[0] - 0.5].concat(xTickYears.map(v => v + 0.5));
    xMinor.forEach(v => { const p = Math.round(x.getPixelForValue(v)) + 0.5; if (p > a.left && p < a.right) { ctx.beginPath(); ctx.moveTo(p, a.top); ctx.lineTo(p, a.bottom); ctx.stroke(); } });
    yTicks.forEach(v => { const p = Math.round(y.getPixelForValue(v + 0.5)) + 0.5; if (p > a.top && p < a.bottom) { ctx.beginPath(); ctx.moveTo(a.left, p); ctx.lineTo(a.right, p); ctx.stroke(); } });
    ctx.restore();
  },
  afterDatasetsDraw(chart) {
    const {ctx, chartArea: a, scales: {x, y}} = chart;
    ctx.save();
    ctx.strokeStyle = '#3a3a3a'; ctx.lineWidth = 1; ctx.setLineDash([1.5, 2.5, 4, 2.5]);
    eventDates.forEach(v => { const p = vlinePix(chart, v); ctx.beginPath(); ctx.moveTo(p, a.top); ctx.lineTo(p, a.bottom); ctx.stroke(); });
    ctx.strokeStyle = '#000'; ctx.lineWidth = 3.3; ctx.setLineDash([3.3, 10]); ctx.lineCap = 'butt';
    { const p = x.getPixelForValue(copenhagenEnd); ctx.beginPath(); ctx.moveTo(p, a.top + 8); ctx.lineTo(p, a.bottom); ctx.stroke(); }
    ctx.setLineDash([]);
    ctx.strokeStyle = '#b3b3b3'; ctx.lineWidth = 1;
    ctx.strokeRect(a.left + 0.5, a.top + 0.5, a.right - a.left - 1, a.bottom - a.top - 1);
    ctx.font = '13px ' + FONT; ctx.textAlign = 'center'; ctx.textBaseline = 'middle';
    eventLabels.forEach((txt, i) => {
      const lines = txt.split('\n');
      const cx = x.getPixelForValue(eventDates[i]);
      const cy = y.getPixelForValue(eventLabelY[i]);
      const w = Math.max(...lines.map(l => ctx.measureText(l).width)) + 12;
      const h = 15.5 + (lines.length - 1) * 18.7;
      const left = Math.round(cx - w / 2) + 0.5, top = Math.round(cy - h / 2) + 0.5;
      ctx.beginPath();
      if (ctx.roundRect) ctx.roundRect(left, top, Math.round(w), Math.round(h), 2.5); else ctx.rect(left, top, Math.round(w), Math.round(h));
      ctx.fillStyle = '#fff'; ctx.fill();
      ctx.strokeStyle = '#4a4a4a'; ctx.lineWidth = 1; ctx.stroke();
      ctx.fillStyle = '#1e1e1e';
      lines.forEach((l, j) => ctx.fillText(l, cx, top + 8 + j * 18.7));
    });
    ctx.restore();
  },
  afterDraw(chart) {
    const ctx = chart.ctx;
    ctx.save();
    ctx.font = '14px ' + FONT; ctx.textBaseline = 'middle'; ctx.textAlign = 'left';
    const ly = 759;
    let lx = 386;
    const cols = ['#bebebe', '#000'];
    legendLabels.forEach((t, i) => {
      ctx.strokeStyle = cols[i]; ctx.lineWidth = 3.5; ctx.lineCap = 'butt';
      ctx.beginPath(); ctx.moveTo(lx, ly); ctx.lineTo(lx + 11, ly); ctx.stroke();
      lx += 11 + 11.5;
      ctx.fillStyle = '#1e1e1e'; ctx.fillText(t, lx, ly);
      lx += ctx.measureText(t).width + 12.5;
    });
    ctx.restore();
  }
};

new Chart(document.getElementById('c'), {
  type: 'scatter',
  data: {
    datasets: [
      { label: legendLabels[1], data: movingAverage.map(p => ({x:p[0], y:p[1]})), showLine: true, borderColor: '#000', borderWidth: 4, pointRadius: 0, borderJoinStyle: 'round', tension: 0, order: 0 },
      { label: legendLabels[0], data: allDaily.map(p => ({x:p[0], y:p[1]})), backgroundColor: '#c4c4c4', borderWidth: 0, pointRadius: 2, order: 1 },
      { label: 'zero', data: zeroData, showLine: true, spanGaps: false, borderColor: '#c6c6c6', borderWidth: 3, borderCapStyle: 'round', pointRadius: 0, order: 2 }
    ]
  },
  options: {
    responsive: false, animation: false, devicePixelRatio: 1, events: [],
    layout: { padding: { left: 0, right: 1, top: 9, bottom: 30 } },
    plugins: { legend: { display: false }, tooltip: { enabled: false } },
    scales: {
      x: {
        type: 'linear', min: 2002.2246, max: 2019.131,
        afterBuildTicks: s => { s.ticks = xTickYears.map(v => ({value: v})); },
        afterFit: s => { s.height = 80; s.paddingLeft = 0; s.paddingRight = 0; },
        grid: { color: '#dedede', lineWidth: 1, tickLength: 4, tickColor: '#b3b3b3' },
        border: { display: false },
        ticks: { font: { size: 14 }, color: '#222', minRotation: 45, maxRotation: 45, padding: 3, autoSkip: false, callback: v => String(v) },
        title: { display: true, text: 'Date', font: { size: 18 }, color: '#111', padding: { top: 0, bottom: 14 } }
      },
      y: {
        type: 'linear', min: -0.194, max: 4.198,
        afterBuildTicks: s => { s.ticks = yTicks.map(v => ({value: v})); },
        afterFit: s => { s.width = 50; s.paddingTop = 0; s.paddingBottom = 0; },
        grid: { color: '#dedede', lineWidth: 1, tickLength: 4, tickColor: '#b3b3b3' },
        border: { display: false },
        ticks: { font: { size: 14 }, color: '#222', padding: 5, callback: v => String(v) },
        title: { display: true, text: 'MCCC index', font: { size: 18 }, color: '#111', padding: { top: 6, bottom: 0 } }
      }
    }
  },
  plugins: [decor]
});
</script></body></html>
